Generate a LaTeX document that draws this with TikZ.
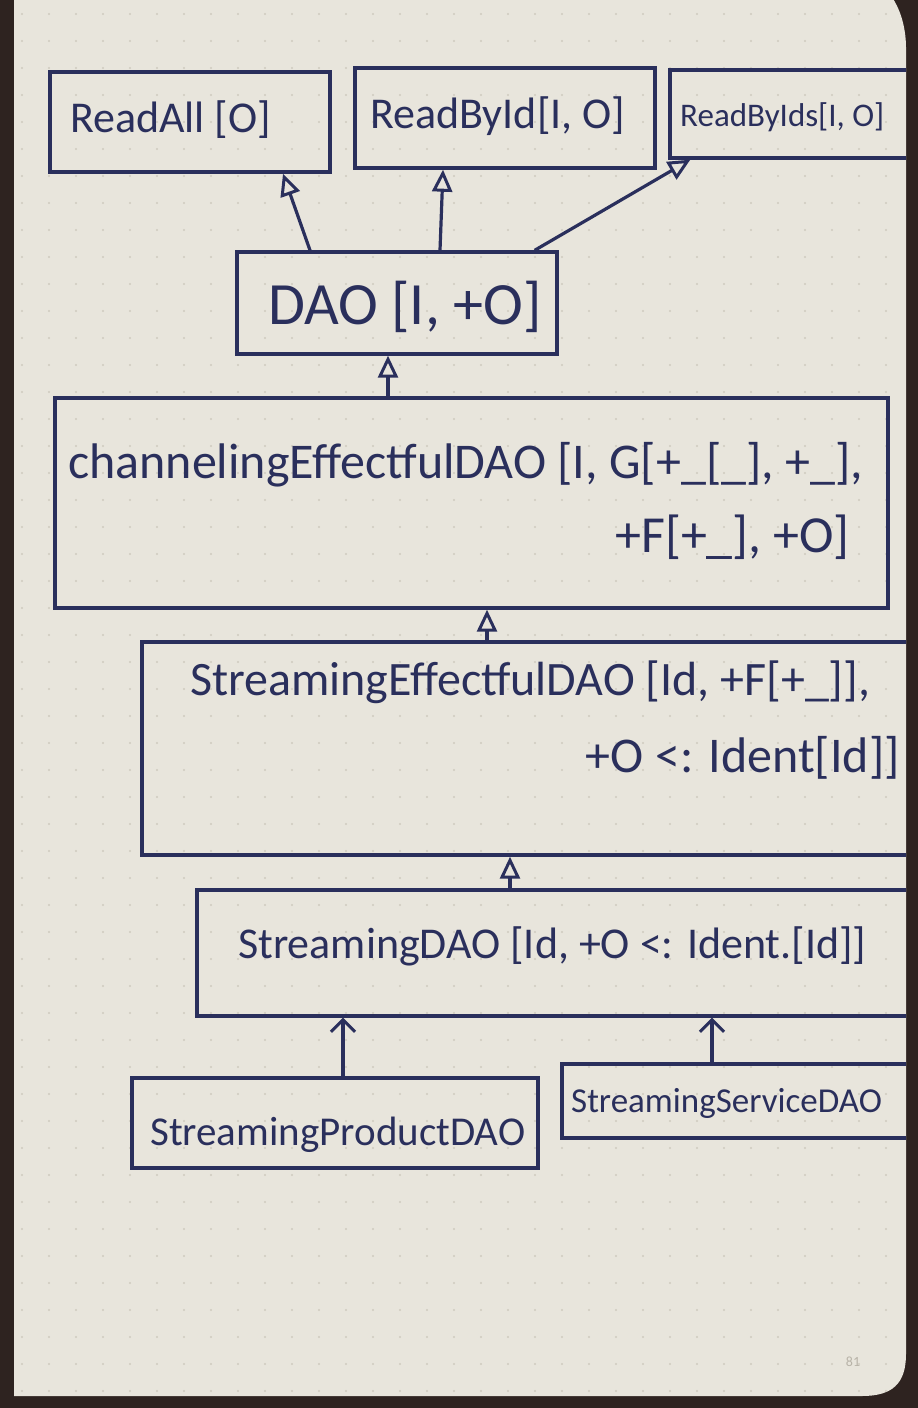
\documentclass[tikz,border=0pt]{standalone}
\usepackage{fontspec}
\setmainfont{Carlito}
\usetikzlibrary{arrows.meta,calc}
\definecolor{ink}{HTML}{2A2F5C}
\definecolor{paper}{HTML}{E8E5DC}
\definecolor{desk}{HTML}{2E2320}
\definecolor{dotc}{HTML}{CFCABF}
\definecolor{faint}{HTML}{B8B3A8}
\newcommand\pagepath{(14,-20) -- (14,1396) -- (862,1396) .. controls (892,1396) and (906,1384) .. (906,1354) -- (906,48) .. controls (906,14) and (890,-20) .. (862,-20) -- cycle}
\tikzset{
  box/.style={draw=ink, line width=3.4pt, rectangle, inner sep=0pt},
  hand/.style={text=ink, inner sep=0pt, anchor=base west},
  handr/.style={text=ink, inner sep=0pt, anchor=base east},
  inh/.style={draw=ink, line width=3.2pt, -{Triangle[open,length=22pt,width=20pt,line width=3pt]}},
  dep/.style={draw=ink, line width=3.2pt, -{Straight Barb[length=12pt,width=24pt,line width=3pt]}},
}
\newcommand\fs[1]{\fontsize{#1}{#1}\selectfont}
\begin{document}
\begin{tikzpicture}[x=1pt,y=-1pt]
\useasboundingbox (0,0) rectangle (918,1408);
\fill[desk] (0,0) rectangle (918,1408);
\fill[paper] \pagepath;
\begin{scope}
\clip \pagepath;
\foreach \i in {0,...,33}{
  \foreach \j in {0,...,52}{
    \fill[dotc] (22+27*\i, 14+27*\j) circle (1.1);
  }
}
% boxes
\node[box, minimum width=280pt, minimum height=100pt] (readall) at (190,122) {};
\node[box, minimum width=300pt, minimum height=100pt] (readbyid) at (505,118) {};
\node[box, minimum width=270pt, minimum height=88pt] (readbyids) at (805,114) {};
\node[box, minimum width=320pt, minimum height=102pt] (dao) at (397,303) {};
\node[box, minimum width=833pt, minimum height=210pt] (chan) at (471.5,503) {};
\node[box, minimum width=818pt, minimum height=213pt] (streff) at (551,748.5) {};
\node[box, minimum width=763pt, minimum height=126pt] (strdao) at (578.5,953) {};
\node[box, minimum width=406pt, minimum height=90pt] (prod) at (335,1123) {};
\node[box, minimum width=398pt, minimum height=74pt] (serv) at (761,1101) {};
% texts
\node[hand, font=\fs{44}] (treadall) at (70,132) {ReadAll [O]};
\node[hand, font=\fs{44}] (treadbyid) at (370,128) {ReadById[I, O]};
\node[hand, font=\fs{33}] (treadbyids) at (680,126) {ReadByIds[I, O]};
\node[hand, font=\fs{60}] (tdao) at (268,324) {DAO [I, +O]};
\node[hand, font=\fs{50}] (tchan1) at (68,478) {channelingEffectfulDAO [I, G[+\_[\_], +\_],};
\node[handr, font=\fs{52}] (tchan2) at (850,552) {+F[+\_], +O]};
\node[hand, font=\fs{48}] (tstreff1) at (190,695) {StreamingEffectfulDAO [Id, +F[+\_]],};
\node[handr, font=\fs{50}] (tstreff2) at (900,772) {+O <: Ident[Id]]};
\node[hand, font=\fs{44}] (tstrdao) at (238,958) {StreamingDAO [Id, +O <: Ident.[Id]]};
\node[hand, font=\fs{35}] (tserv) at (571,1112) {StreamingServiceDAO};
\node[hand, font=\fs{41}] (tprod) at (150,1145) {StreamingProductDAO};
\node[text=faint, font=\fs{14}] (pageno) at (853,1362) {81};
% connectors
\draw[inh] ([xshift=-87pt]dao.north) -- ([xshift=93pt]readall.south);
\draw[inh] ([xshift=43pt]dao.north) -- ([xshift=-62pt]readbyid.south);
\draw[inh] ([xshift=-24pt]dao.north east) -- ([xshift=22pt]readbyids.south west);
\draw[inh] ([xshift=-83.5pt]chan.north) -- ([xshift=-9pt]dao.south);
\draw[inh] ([xshift=-64pt]streff.north) -- ([xshift=15.5pt]chan.south);
\draw[inh] ([xshift=-68.5pt]strdao.north) -- ([xshift=-41pt]streff.south);
\draw[dep] ([xshift=8pt]prod.north) -- ([xshift=-235.5pt]strdao.south);
\draw[dep] ([xshift=-49pt]serv.north) -- ([xshift=133.5pt]strdao.south);
\end{scope}
\end{tikzpicture}
\end{document}
